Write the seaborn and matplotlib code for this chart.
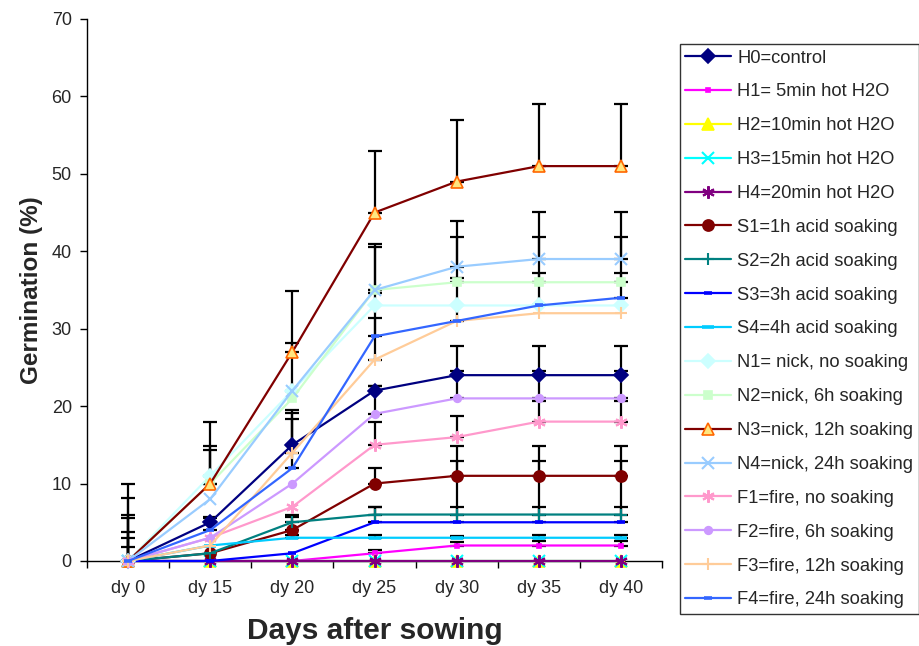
import numpy as np
import matplotlib
matplotlib.use('Agg')
import matplotlib.pyplot as plt
import seaborn as sns

# categories
days = ['dy 0', 'dy 15', 'dy 20', 'dy 25', 'dy 30', 'dy 35', 'dy 40']

labels = ['H0=control', 'H1= 5min hot H2O', 'H2=10min hot H2O', 'H3=15min hot H2O',
          'H4=20min hot H2O', 'S1=1h acid soaking', 'S2=2h acid soaking',
          'S3=3h acid soaking', 'S4=4h acid soaking', 'N1= nick, no soaking',
          'N2=nick, 6h soaking', 'N3=nick, 12h soaking', 'N4=nick, 24h soaking',
          'F1=fire, no soaking', 'F2=fire, 6h soaking', 'F3=fire, 12h soaking',
          'F4=fire, 24h soaking']

# germination (%) per treatment
h0 = [0, 5, 15, 22, 24, 24, 24]
h1 = [0, 0, 0, 1, 2, 2, 2]
h2 = [0, 0, 0, 0, 0, 0, 0]
h3 = [0, 0, 0, 0, 0, 0, 0]
h4 = [0, 0, 0, 0, 0, 0, 0]
s1 = [0, 1, 4, 10, 11, 11, 11]
s2 = [0, 1, 5, 6, 6, 6, 6]
s3 = [0, 0, 1, 5, 5, 5, 5]
s4 = [0, 2, 3, 3, 3, 3, 3]
n1 = [0, 11, 22, 33, 33, 33, 33]
n2 = [0, 10, 21, 35, 36, 36, 36]
n3 = [0, 10, 27, 45, 49, 51, 51]
n4 = [0, 8, 22, 35, 38, 39, 39]
f1 = [0, 3, 7, 15, 16, 18, 18]
f2 = [0, 3, 10, 19, 21, 21, 21]
f3 = [0, 2, 14, 26, 31, 32, 32]
f4 = [0, 4, 12, 29, 31, 33, 34]

# plus-direction error bars
e_h0 = [3.8, 0.7, 4.5, 0.6, 3.8, 3.8, 3.8]
e_h1 = [0, 0, 0, 0.4, 0.5, 0.6, 0.6]
e_h2 = [0, 0, 0, 0, 0, 0, 0]
e_h3 = [0, 0, 0, 0, 0, 0, 0]
e_h4 = [0, 0, 0, 0, 0, 0, 0]
e_s1 = [1.85, 0, 2.0, 2.0, 3.9, 3.9, 3.9]
e_s2 = [3.0, 0, 0.7, 1.0, 6.9, 6.9, 6.9]
e_s3 = [0, 0, 0, 2.0, 2.0, 2.0, 2.0]
e_s4 = [0, 0, 0.4, 0.4, 0.2, 0.3, 0.3]
e_n1 = [5.5, 3.8, 0, 0, 0, 0, 0]
e_n2 = [6.0, 4.3, 0, 5.6, 5.8, 5.8, 5.8]
e_n3 = [10, 8, 7.9, 8, 8, 8, 8]
e_n4 = [8.1, 0, 6.2, 6.0, 5.9, 6.1, 6.1]
e_f1 = [0, 0, 0, 2.9, 2.7, 2.7, 2.7]
e_f2 = [0, 0, 0, 3.6, 3.6, 3.6, 3.6]
e_f3 = [0, 0, 5.1, 5.4, 0, 0, 0]
e_f4 = [0, 1.5, 6.3, 5.6, 5.5, 4.2, 3.2]

series = [h0, h1, h2, h3, h4, s1, s2, s3, s4, n1, n2, n3, n4, f1, f2, f3, f4]
errors = [e_h0, e_h1, e_h2, e_h3, e_h4, e_s1, e_s2, e_s3, e_s4, e_n1, e_n2,
          e_n3, e_n4, e_f1, e_f2, e_f3, e_f4]

star = (6, 2, 0)
# (line colour, marker, marker size, face colour, edge colour)
styles = [
    ('#000080', 'D', 7, '#000080', '#000080'),
    ('#FF00FF', 's', 3, '#FF00FF', '#FF00FF'),
    ('#FFFF00', '^', 8, '#FFFF00', '#FFFF00'),
    ('#00FFFF', 'x', 8, '#00FFFF', '#00FFFF'),
    ('#800080', star, 9, '#800080', '#800080'),
    ('#800000', 'o', 8, '#800000', '#800000'),
    ('#008080', '+', 9, '#008080', '#008080'),
    ('#0000FF', '_', 6, '#0000FF', '#0000FF'),
    ('#00CCFF', '_', 9, '#00CCFF', '#00CCFF'),
    ('#CCFFFF', 'D', 7, '#CCFFFF', '#CCFFFF'),
    ('#CCFFCC', 's', 6, '#CCFFCC', '#CCFFCC'),
    ('#800000', '^', 9, '#FFE680', '#FF6600'),
    ('#99CCFF', 'x', 8, '#99CCFF', '#99CCFF'),
    ('#FF99CC', star, 9, '#FF99CC', '#FF99CC'),
    ('#CC99FF', 'o', 5.5, '#CC99FF', '#CC99FF'),
    ('#FFCC99', '+', 9, '#FFCC99', '#FFCC99'),
    ('#3366FF', '_', 6, '#3366FF', '#3366FF'),
]

sns.set_style('white')
plt.rcParams['font.family'] = ['Liberation Sans', 'DejaVu Sans']

fig = plt.figure(figsize=(9.2, 6.46), dpi=100)
ax = fig.add_axes([0.0946, 0.1316, 0.625, 0.839])

x = np.arange(len(days))
handles = []
for vals, errs, lab, st in zip(series, errors, labels, styles):
    col, mk, ms, fc, ec = st
    errs = np.array(errs, dtype=float)
    keep = errs > 0
    if keep.any():
        ax.errorbar(x[keep], np.array(vals)[keep],
                    yerr=[np.zeros(keep.sum()), errs[keep]],
                    fmt='none', ecolor='black', elinewidth=1.6,
                    capsize=5, capthick=1.6, zorder=2)
    mew = 2.6 if mk == '_' else (1.5 if mk in ('x', '+', star) else 1.2)
    sns.lineplot(x=x, y=vals, ax=ax, color=col, linewidth=1.6,
                 marker=mk, markersize=ms, markerfacecolor=fc,
                 markeredgecolor=ec, markeredgewidth=mew, zorder=3,
                 label=lab, legend=False, clip_on=False)
    handles.append(ax.lines[-1])

ax.set_xlim(-0.5, len(days) - 0.5)
ax.set_ylim(0, 70)
ax.set_yticks(range(0, 71, 10))
ax.set_xticks(x)
ax.set_xticklabels(days)
ax.set_xticks(np.arange(-0.5, len(days), 1), minor=True)
ax.tick_params(axis='x', which='major', length=0, pad=14, labelsize=13)
ax.tick_params(axis='x', which='minor', length=5, width=1, color='black',
               direction='out', bottom=True)
ax.tick_params(axis='y', length=5, width=1, color='black', direction='out',
               left=True, labelsize=13, pad=6)
for side in ['top', 'right']:
    ax.spines[side].set_visible(False)
for side in ['left', 'bottom']:
    ax.spines[side].set_color('black')
    ax.spines[side].set_linewidth(1)

ax.set_xlabel('Days after sowing', fontsize=21.5, fontweight='bold', labelpad=14)
ax.set_ylabel('Germination (%)', fontsize=17.5, fontweight='bold', labelpad=6)

leg = fig.legend(handles=handles, labels=labels, loc='center right',
                 bbox_to_anchor=(919 / 920, 1 - 329 / 646), fontsize=13.2,
                 frameon=True, fancybox=False, edgecolor='black',
                 handlelength=2.5, handletextpad=0.36, labelspacing=0.92,
                 borderpad=0.3, borderaxespad=0)
leg.get_frame().set_linewidth(1)

fig.savefig('out.png', dpi=100)
